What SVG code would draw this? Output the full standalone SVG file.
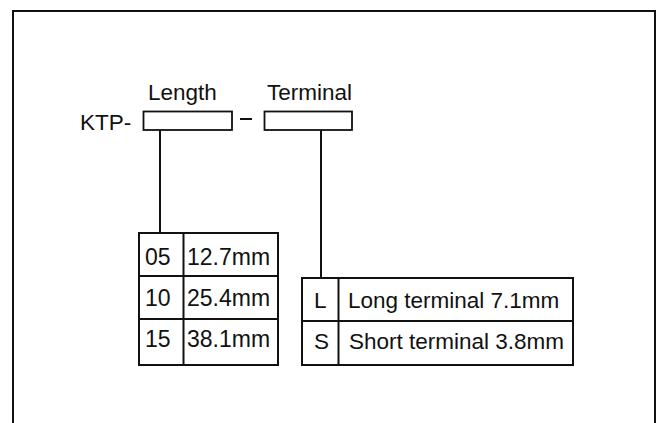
<svg xmlns="http://www.w3.org/2000/svg" width="662" height="423" viewBox="0 0 662 423">
<style>
text{font-family:"Liberation Sans",Arial,sans-serif;font-size:22.5px;fill:#111}
.t{font-size:23px}
.ln{stroke:#111;stroke-width:2;fill:none}
.bx{stroke:#111;stroke-width:1.8;fill:#fff}
</style>
<rect x="0" y="0" width="662" height="423" fill="#fff"/>
<rect x="13" y="11" width="642" height="430" class="ln" stroke-width="2.5"/>
<g id="title">
<text x="80" y="129.5">KTP-</text>
<text x="148" y="100">Length</text>
<text x="267" y="100">Terminal</text>
<line x1="240" y1="119" x2="252" y2="119" class="ln" stroke-width="1.8"/>
</g>
<g id="length-box"><rect x="143.5" y="111.5" width="88.5" height="18.5" class="bx"/></g>
<g id="terminal-box"><rect x="264.5" y="111.5" width="87.5" height="18.5" class="bx"/></g>
<g id="connectors">
<line x1="160" y1="130" x2="160" y2="233" class="ln"/>
<line x1="321" y1="130" x2="321" y2="278" class="ln"/>
</g>
<g id="length-table">
<rect x="139" y="233" width="139" height="132" class="ln"/>
<line x1="139" y1="276" x2="278" y2="276" class="ln"/>
<line x1="139" y1="319" x2="278" y2="319" class="ln"/>
<line x1="183.5" y1="233" x2="183.5" y2="365" class="ln" stroke-width="1.6"/>
<text class="t" x="145" y="264.5">05</text><text class="t" x="187" y="264.5">12.7mm</text>
<text class="t" x="145" y="306">10</text><text class="t" x="187" y="306">25.4mm</text>
<text class="t" x="145" y="347">15</text><text class="t" x="187" y="347">38.1mm</text>
</g>
<g id="terminal-table">
<rect x="302" y="278" width="271" height="87" class="ln"/>
<line x1="302" y1="321" x2="573" y2="321" class="ln"/>
<line x1="338.5" y1="278" x2="338.5" y2="365" class="ln" stroke-width="1.6"/>
<text x="314" y="308">L</text><text x="348" y="308">Long terminal 7.1mm</text>
<text x="314" y="349">S</text><text x="349" y="349">Short terminal 3.8mm</text>
</g>
</svg>
